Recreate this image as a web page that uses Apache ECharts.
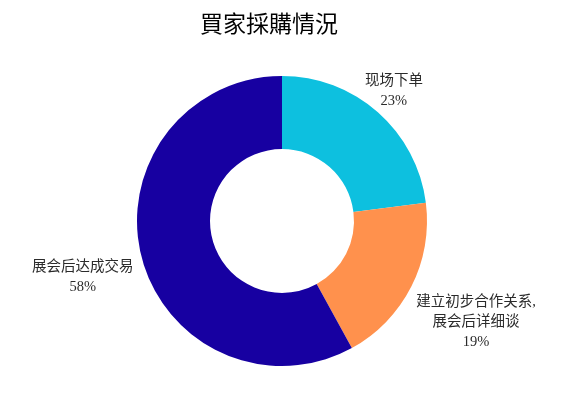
<!DOCTYPE html>
<html>
<head>
<meta charset="utf-8">
<script src="https://cdn.jsdelivr.net/npm/echarts@6/dist/echarts.min.js"></script>
<style>
  html, body { margin: 0; padding: 0; background: #fff; }
  #main { width: 566px; height: 403px; }
</style>
</head>
<body>
<div id="main"></div>
<script>
// 买家采购情况
const categories = ['现场下单', '建立初步合作关系,\n展会后详细谈', '展会后达成交易'];
const values = [23, 19, 58];
const colors = ['#0DC0DF', '#FF914D', '#1700A1'];
// 标签偏移
const labelShift = [[-18, -21], [0, 35], [-3, 20]];

const font = "'Liberation Serif', 'Noto Sans CJK SC', serif";

const myChart = echarts.init(document.getElementById('main'));

myChart.setOption({
  animation: false,
  title: {
    text: '買家採購情況',
    left: 195,
    top: 7,
    textStyle: {
      fontFamily: "'Noto Sans CJK TC', sans-serif",
      fontSize: 23,
      fontWeight: 'normal',
      color: '#000',
    },
  },
  series: [
    {
      type: 'pie',
      center: [282, 221],
      radius: [72, 145],
      startAngle: 90,
      clockwise: true,
      avoidLabelOverlap: false,
      data: values.map((v, i) => ({
        value: v,
        name: categories[i],
        itemStyle: { color: colors[i] },
      })),
      label: {
        show: true,
        position: 'outside',
        formatter: '{a|{b}}\n{a|{d}%}',
        rich: {
          a: {
            align: 'center',
            fontFamily: font,
            fontSize: 14.5,
            lineHeight: 20,
            color: '#2b2b2b',
          },
        },
      },
      labelLine: { show: false, length: 0, length2: 0 },
      labelLayout: (params) => ({
        dx: labelShift[params.dataIndex][0],
        dy: labelShift[params.dataIndex][1],
      }),
    },
  ],
});
</script>
</body>
</html>
